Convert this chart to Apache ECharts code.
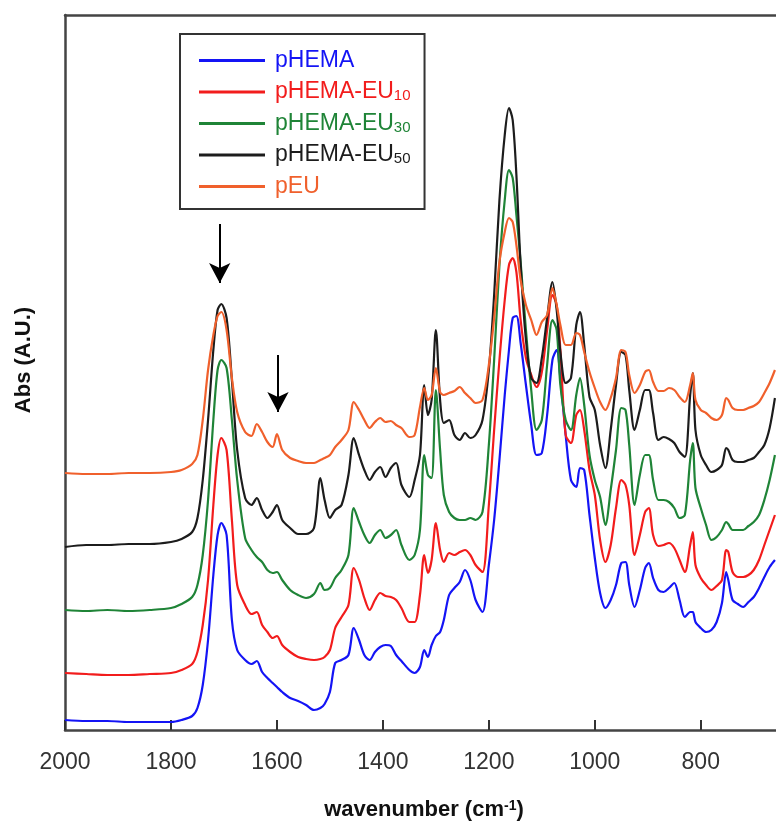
<!DOCTYPE html>
<html>
<head>
<meta charset="utf-8">
<script src="https://cdn.jsdelivr.net/npm/echarts@6/dist/echarts.min.js"></script>
<style>
html,body{margin:0;padding:0;background:#fff;}
#chart{width:776px;height:827px;}
</style>
</head>
<body>
<div id="chart"></div>
<script>
// wavenumber grid (cm-1)
var wavenumbers = [2000,1960,1920,1880,1840,1800,1780,1760,1750,1740,
  1730,1720,1712,1705,1695,1685,1675,1660,1648,1638,
  1628,1618,1608,1600,1590,1575,1560,1545,1530,1518,
  1510,1500,1490,1478,1465,1455,1445,1435,1425,1415,
  1405,1395,1385,1375,1365,1350,1340,1330,1322,1315,
  1308,1300,1292,1285,1275,1265,1255,1245,1235,1225,
  1212,1200,1190,1180,1170,1162,1155,1148,1140,1130,
  1120,1110,1100,1090,1080,1072,1065,1055,1045,1035,
  1028,1020,1010,1000,990,980,970,960,950,942,
  935,925,915,905,898,890,880,870,860,850,
  840,830,820,815,810,800,790,780,770,760,
  752,748,740,730,720,710,700,690,680,670,
  660];

// x-axis tick labels
var xTicks = [2000,1800,1600,1400,1200,1000,800];

// Absorbance (A.U., stacked offsets as drawn)
var absPHEMA = [10,9,9,8,8,8,10,14,22,45,
  90,155,195,207,195,110,80,70,66,69,
  58,52,47,43,38,32,29,25,20,22,
  26,38,67,70,75,102,90,75,70,78,
  83,85,84,75,69,60,57,63,80,73,
  85,94,98,110,135,142,148,160,150,130,
  118,165,210,270,335,380,412,414,387,345,
  305,275,277,315,370,380,352,295,250,243,
  262,260,215,172,137,122,130,145,167,168,
  145,123,140,162,167,152,140,138,142,147,
  130,113,118,118,108,102,98,100,108,127,
  158,150,130,126,123,128,133,142,153,163,
  170];

var absEU10 = [57,56,55,55,56,57,60,66,78,105,
  150,225,275,292,280,210,145,125,116,118,
  105,98,92,94,85,78,73,71,70,71,
  73,80,102,113,125,162,150,132,120,130,
  137,134,133,130,122,108,108,135,175,157,
  170,207,180,168,177,175,178,180,175,165,
  158,225,300,370,430,465,472,458,410,372,
  355,343,358,400,435,425,380,295,287,315,
  320,300,260,235,190,168,185,222,250,245,
  225,175,195,218,222,195,184,185,187,182,
  170,158,185,198,165,152,145,140,144,150,
  180,178,158,153,153,155,160,170,185,200,
  215];

var absEU30 = [120,119,120,119,120,122,126,133,145,175,
  230,310,360,370,362,310,250,192,180,173,
  168,160,157,158,150,140,135,132,136,147,
  140,142,152,160,175,222,208,195,187,195,
  200,192,195,200,185,170,175,200,275,255,
  252,340,280,235,218,212,210,210,212,210,
  218,285,370,465,530,560,552,515,468,400,
  340,300,310,365,410,400,345,310,300,335,
  352,325,275,250,233,205,240,280,322,320,
  285,225,255,275,275,250,230,230,228,222,
  212,215,270,287,242,222,205,190,193,200,
  208,206,200,200,200,204,208,215,230,250,
  275];

var absEU50 = [183,185,185,186,186,188,191,198,212,250,
  310,380,420,426,412,350,280,232,225,232,
  220,212,218,225,210,202,196,196,202,252,
  230,212,220,225,255,292,275,260,250,258,
  263,253,262,267,245,233,250,275,345,315,
  330,400,330,307,310,295,290,297,292,295,
  310,360,435,530,595,622,610,555,465,390,
  352,347,372,412,448,420,378,347,352,405,
  418,385,333,320,285,262,300,345,378,375,
  340,300,320,340,340,317,290,293,291,287,
  278,273,335,357,300,275,265,258,260,265,
  282,280,270,268,268,270,272,278,285,302,
  332];

var absPEU = [257,256,256,257,257,258,260,266,275,310,
  360,395,414,418,400,352,318,298,294,306,
  298,288,283,296,280,272,269,267,267,270,
  272,275,283,290,300,328,320,310,302,308,
  312,308,309,305,302,293,295,323,342,330,
  335,362,338,335,337,339,343,337,332,327,
  330,365,412,468,498,512,508,485,450,425,
  410,395,408,415,442,425,405,385,385,397,
  395,378,358,342,328,320,332,352,380,378,
  355,337,345,358,360,348,339,339,342,340,
  333,328,345,357,330,320,317,312,310,315,
  332,330,322,320,320,322,324,328,337,347,
  360];

var seriesNames = ['pHEMA','pHEMA-EU10','pHEMA-EU30','pHEMA-EU50','pEU'];
var seriesColors = ['#1414f5','#f21c1c','#1f8437','#1c1c1c','#f0602c'];
var seriesValues = [absPHEMA, absEU10, absEU30, absEU50, absPEU];

// annotation arrows: [wavenumber, from, to]
var arrows = [[1708, 506, 447], [1598, 375, 318]];

var FONT = 'Liberation Sans, Arial, sans-serif';

function pairs(vals){
  return wavenumbers.map(function(w,i){ return [w, vals[i]]; });
}

var series = seriesNames.map(function(n, i){
  var s = {
    name: n,
    type: 'line',
    data: pairs(seriesValues[i]),
    showSymbol: false,
    smooth: 0.3,
    lineStyle: {width: 2.2, color: seriesColors[i]},
    itemStyle: {color: seriesColors[i]},
    z: 2 + i
  };
  if (n === 'pHEMA-EU50') {
    s.markLine = {
      silent: true,
      symbol: ['none','arrow'],
      symbolSize: [16, 20],
      label: {show: false},
      lineStyle: {color: '#000', width: 2, type: 'solid'},
      data: arrows.map(function(a){
        return [{coord: [a[0], a[1]]}, {coord: [a[0], a[2]]}];
      })
    };
  }
  return s;
});

var subRich = {};
seriesColors.forEach(function(c, i){
  subRich['s' + i] = {fontSize: 15, color: c, fontFamily: FONT, verticalAlign: 'bottom', padding: [6,0,0,0]};
});

var chart = echarts.init(document.getElementById('chart'), null, {renderer: 'canvas'});
chart.setOption({
  animation: false,
  backgroundColor: '#fff',
  grid: {left: 65, right: 0, top: 15, bottom: 97},
  legend: {
    orient: 'vertical',
    left: 180, top: 34,
    padding: [15, 14, 11, 19],
    itemWidth: 66, itemHeight: 3, itemGap: 8.5,
    icon: 'rect',
    borderColor: '#333', borderWidth: 2,
    backgroundColor: '#fff',
    data: seriesNames.map(function(n, i){
      return {name: n, textStyle: {color: seriesColors[i]}};
    }),
    formatter: function(name){
      var i = seriesNames.indexOf(name);
      var m = name.match(/^(.*EU)(\d+)$/);
      if (m) return m[1] + '{s' + i + '|' + m[2] + '}';
      return name;
    },
    textStyle: {fontSize: 23, fontFamily: FONT, padding: [0,0,0,5], rich: subRich}
  },
  xAxis: [{
    type: 'value', inverse: true, min: 658, max: 2000,
    axisLine: {show: true, lineStyle: {color: '#444', width: 2.5}},
    axisTick: {show: true, inside: true, length: 10, customValues: xTicks, lineStyle: {color: '#333', width: 2}},
    axisLabel: {fontSize: 23, color: '#333', fontFamily: FONT, margin: 21, customValues: xTicks,
      formatter: function(v){ return String(v); }},
    splitLine: {show: false}
  }, {
    type: 'value', position: 'top', inverse: true, min: 658, max: 2000,
    axisLine: {show: true, onZero: false, lineStyle: {color: '#444', width: 2.5}},
    axisTick: {show: false}, axisLabel: {show: false}, splitLine: {show: false}
  }],
  yAxis: {
    type: 'value', min: 0, max: 715,
    axisLine: {show: true, lineStyle: {color: '#444', width: 2.5}},
    axisTick: {show: false}, axisLabel: {show: false}, splitLine: {show: false}
  },
  graphic: [
    {type: 'text', x: 424, y: 810, z: 10, style: {
      text: 'wavenumber (cm{sup|-1})', font: 'bold 22px ' + FONT, fill: '#111',
      align: 'center', verticalAlign: 'middle',
      rich: {sup: {fontSize: 14, fontWeight: 'bold', fontFamily: FONT, fill: '#111', verticalAlign: 'top', padding: [0,0,8,0]}}
    }},
    {type: 'text', x: 24, y: 360, rotation: Math.PI / 2, z: 10, style: {
      text: 'Abs (A.U.)', font: 'bold 22px ' + FONT, fill: '#111',
      align: 'center', verticalAlign: 'middle'
    }}
  ],
  series: series
});
</script>
</body>
</html>
